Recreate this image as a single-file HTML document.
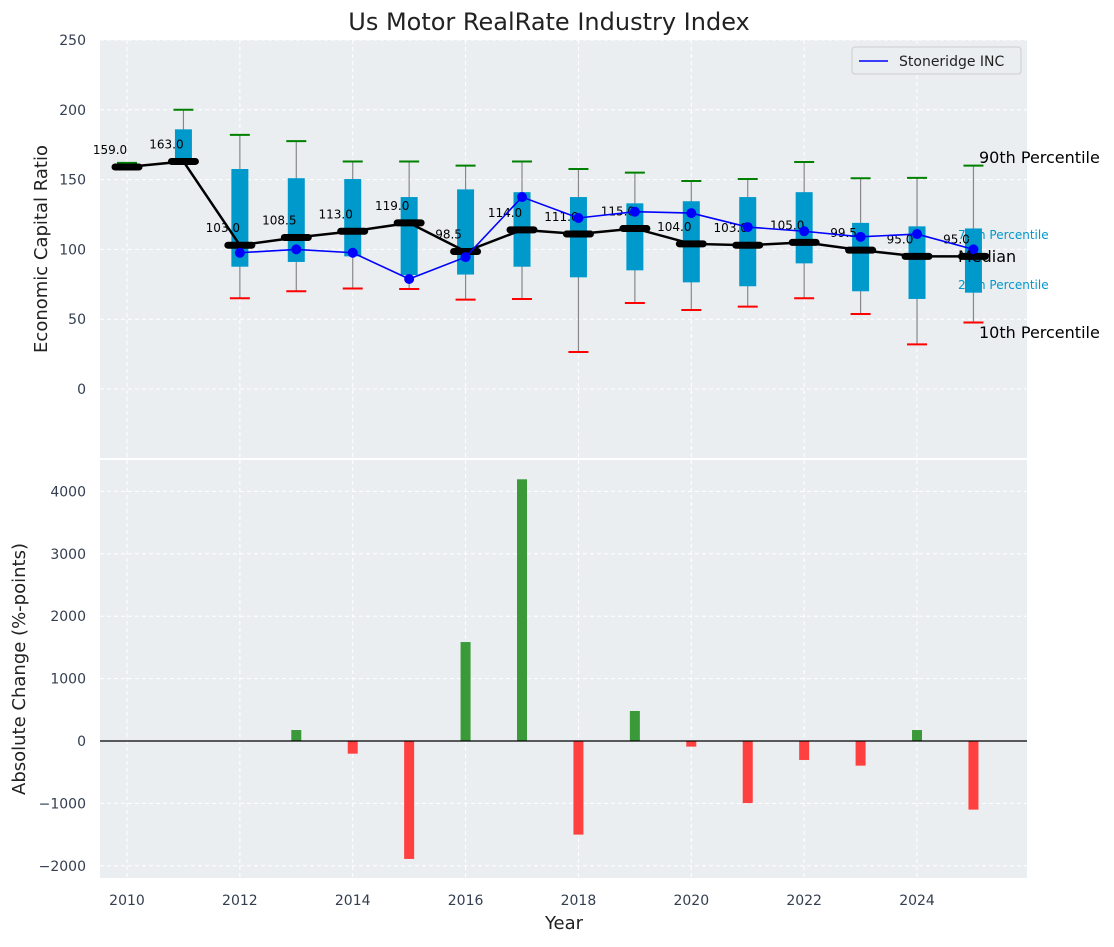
<!DOCTYPE html>
<html><head><meta charset="utf-8"><style>
body{margin:0;background:#fff;font-family:"Liberation Sans","DejaVu Sans",sans-serif}
svg text{font-family:"DejaVu Sans","Liberation Sans",sans-serif}
</style></head><body>
<svg id="chart" width="1114" height="942" xmlns="http://www.w3.org/2000/svg"></svg>
<script>
const years=[2010,2011,2012,2013,2014,2015,2016,2017,2018,2019,2020,2021,2022,2023,2024,2025];
const p10=[159,163,65,70,72,71.6,64,64.5,26.5,61.6,56.6,59,65,53.7,32,47.6];
const p25=[159,163,87.6,91,95,81.6,82,87.6,80,85,76.4,73.6,90,70,64.5,69];
const median=[159,163,103,108.5,113,119,98.5,114,111,115,104,103,105,99.5,95,95];
const p75=[159,186,157.6,151,150.4,137.5,143,141,137.5,133,134.5,137.5,141,119,116.5,115];
const p90=[162,200,182,177.6,163,163,160,163,157.6,155,149,150.4,162.6,151,151.2,160];
const company=[null,null,97.6,100,97.6,78.8,94.5,137.5,122.5,127,126,116,113,109,111,100];
const changes=[0,0,0,176,-203,-1890,1586,4194,-1500,481,-90,-995,-304,-395,176,-1100];
const topTicks=[0,50,100,150,200,250];
const botTicks=[-2000,-1000,0,1000,2000,3000,4000];
const xTicks=[2010,2012,2014,2016,2018,2020,2022,2024];

const NS="http://www.w3.org/2000/svg";
const svg=document.getElementById('chart');
function el(tag,attrs,parent,txt){const e=document.createElementNS(NS,tag);for(const k in attrs)e.setAttribute(k,attrs[k]);if(txt!==undefined)e.textContent=txt;(parent||svg).appendChild(e);return e;}
const L=100,R=1027;
const x=v=>127+(v-2010)*56.43;
const yT=v=>389-v*1.396;
const yB=v=>741-v*0.0624;

let t=el('text',{x:549,y:30,'font-size':24,'text-anchor':'middle',fill:'#222'},svg,'Us Motor RealRate Industry Index');


// backgrounds
let bg1=el('rect',{x:L,y:40,width:R-L,height:418,fill:'#eaeef0'});

let bg2=el('rect',{x:L,y:460,width:R-L,height:418,fill:'#eaeef0'});


// grids
const grid=el('g',{stroke:'#fff','stroke-dasharray':'4,3','stroke-width':1});

xTicks.forEach(v=>{el('line',{x1:x(v),x2:x(v),y1:40,y2:458},grid);el('line',{x1:x(v),x2:x(v),y1:460,y2:878},grid);});
topTicks.forEach(v=>el('line',{x1:L,x2:R,y1:yT(v),y2:yT(v)},grid));
botTicks.forEach(v=>el('line',{x1:L,x2:R,y1:yB(v),y2:yB(v)},grid));

// tick labels
topTicks.forEach(v=>{const e=el('text',{x:86,y:yT(v)+5,'font-size':14,'text-anchor':'end',fill:'#333e50'},svg,String(v));
});
botTicks.forEach(v=>{const e=el('text',{x:86,y:yB(v)+5,'font-size':14,'text-anchor':'end',fill:'#333e50'},svg,v<0?'\u2212'+(-v):String(v));
});
xTicks.forEach(v=>{const e=el('text',{x:x(v),y:905,'font-size':14,'text-anchor':'middle',fill:'#333e50'},svg,String(v));
});

let a1=el('text',{x:47,y:249,'font-size':18,'text-anchor':'middle',fill:'#222',transform:'rotate(-90 47 249)'},svg,'Economic Capital Ratio');

let a2=el('text',{x:25,y:669,'font-size':18,'text-anchor':'middle',fill:'#222',transform:'rotate(-90 25 669)'},svg,'Absolute Change (%-points)');

let a3=el('text',{x:564,y:929,'font-size':18,'text-anchor':'middle',fill:'#222'},svg,'Year');


// boxes
years.forEach((yr,i)=>{
  const g=el('g',{});
  
  const cx=x(yr);
  el('line',{x1:cx,x2:cx,y1:yT(p90[i]),y2:yT(p10[i]),stroke:'#888','stroke-width':1.2},g);
  el('rect',{x:cx-8.5,y:yT(p75[i]),width:17,height:Math.max(0,yT(p25[i])-yT(p75[i])),fill:'#0099cc'},g);
  el('line',{x1:cx-10,x2:cx+10,y1:yT(p90[i]),y2:yT(p90[i]),stroke:'green','stroke-width':2},g);
  if(p10[i]<median[i]) el('line',{x1:cx-10,x2:cx+10,y1:yT(p10[i]),y2:yT(p10[i]),stroke:'red','stroke-width':2},g);
});
// median line
let mp=years.map((yr,i)=>x(yr)+','+yT(median[i])).join(' ');
let ml=el('polyline',{points:mp,fill:'none',stroke:'#000','stroke-width':2.5});

years.forEach((yr,i)=>{
  const m=el('line',{x1:x(yr)-12,x2:x(yr)+12,y1:yT(median[i]),y2:yT(median[i]),stroke:'#000','stroke-width':7,'stroke-linecap':'round'});
  
  const lb=el('text',{x:x(yr)-17,y:yT(median[i])-13,'font-size':12,'text-anchor':'middle',fill:'#000'},svg,median[i].toFixed(1));
  
});
// company line
const cpts=[];years.forEach((yr,i)=>{if(company[i]!==null)cpts.push([x(yr),yT(company[i])]);});
let cl=el('polyline',{points:cpts.map(p=>p.join(',')).join(' '),fill:'none',stroke:'#0000ff','stroke-width':1.6});

cpts.forEach(p=>{const c=el('circle',{cx:p[0],cy:p[1],r:5,fill:'#0000ff'});});

// right labels
const rl=[['90th Percentile',979,163,16,'#000'],['75th Percentile',958,239,12,'#0099cc'],['Median',958,262,16,'#000'],['25th Percentile',958,289,12,'#0099cc'],['10th Percentile',979,338,16,'#000']];
rl.forEach(r=>{const e=el('text',{x:r[1],y:r[2],'font-size':r[3],fill:r[4]},svg,r[0]);});

// legend
const lg=el('g',{});
el('rect',{x:852,y:47,width:169,height:27,rx:3,fill:'#eaeef0',stroke:'#ccc'},lg);
el('line',{x1:859,x2:888,y1:61,y2:61,stroke:'#0000ff','stroke-width':1.6},lg);
el('text',{x:899,y:66,'font-size':14,fill:'#222'},lg,'Stoneridge INC');

// bars
years.forEach((yr,i)=>{
  const v=changes[i];if(v===0)return;
  const b=el('rect',{x:x(yr)-5,y:Math.min(yB(v),yB(0)),width:10,height:Math.abs(yB(v)-yB(0)),fill:v>0?'#3a9a3a':'#ff4040'});
  
});
let zl=el('line',{x1:L,x2:R,y1:yB(0),y2:yB(0),stroke:'#000','stroke-width':1.3});

</script>
</body></html>
